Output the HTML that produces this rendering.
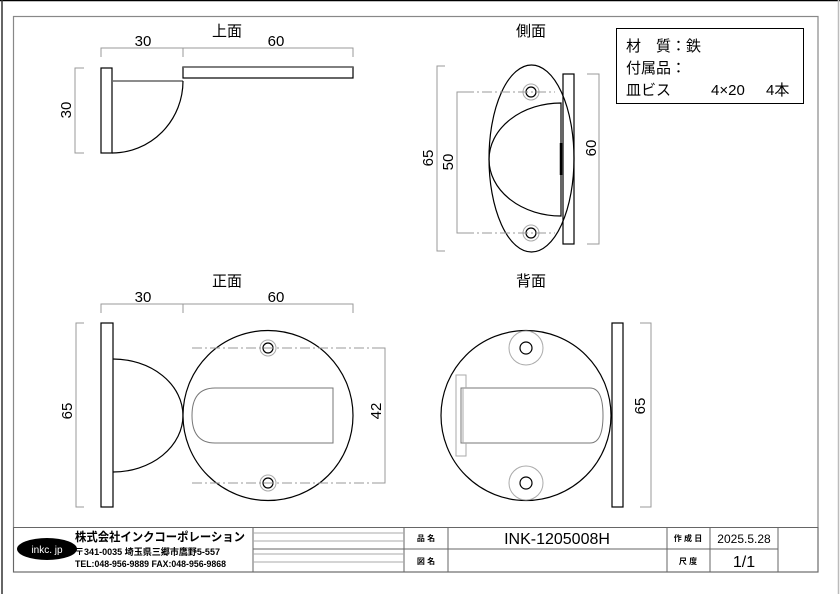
<!DOCTYPE html>
<html><head><meta charset="utf-8"><style>
html,body{margin:0;padding:0;background:#fff;}
svg{display:block;}
text{font-family:"Liberation Sans","Noto Sans CJK JP",sans-serif;}
</style></head><body>
<svg width="840" height="594" viewBox="0 0 840 594" xmlns="http://www.w3.org/2000/svg">
<line x1="0" y1="0.5" x2="840" y2="0.5" stroke="#000" stroke-width="1.5"/>
<line x1="2" y1="0" x2="2" y2="594" stroke="#333" stroke-width="1.5"/>
<line x1="838.5" y1="0" x2="838.5" y2="594" stroke="#bbb" stroke-width="1.5"/>
<rect x="13.5" y="16.5" width="804.5" height="555.5" fill="none" stroke="#888" stroke-width="1.2"/>

<g fill="none" stroke="#000" stroke-width="1.2">
<rect x="101" y="68" width="11" height="85"/>
<line x1="112" y1="81" x2="183" y2="81" stroke="#666" stroke-width="1.5"/>
<path d="M183,81 A71,72 0 0 1 112,153"/>
<rect x="183" y="67" width="170" height="11"/>
<line x1="183" y1="67" x2="353" y2="67" stroke="#666" stroke-width="1.5"/>
<ellipse cx="531.5" cy="158.5" rx="42.5" ry="93.5"/>
<rect x="563" y="74" width="11" height="170"/>
<path d="M561,103 A72,56.5 0 0 0 561,216 Z"/>
<line x1="561" y1="143" x2="561" y2="175" stroke-width="2.5"/>
<circle cx="531" cy="92" r="8" stroke="#aaa" stroke-width="1"/>
<circle cx="531" cy="92" r="5"/>
<circle cx="531" cy="233" r="8" stroke="#aaa" stroke-width="1"/>
<circle cx="531" cy="233" r="5"/>
<rect x="101" y="323" width="12" height="184"/>
<path d="M113,359 A70,56.5 0 0 1 113,472"/>
<circle cx="268" cy="415.5" r="85"/>
<path d="M333,388 L215,388 Q192,388 192,415.5 Q192,443 215,443 L333,443 Z" stroke="#777" stroke-width="1"/>
<circle cx="268" cy="348" r="8" stroke="#aaa" stroke-width="1"/>
<circle cx="268" cy="348" r="5"/>
<circle cx="268" cy="483" r="8" stroke="#aaa" stroke-width="1"/>
<circle cx="268" cy="483" r="5"/>
<circle cx="526" cy="415.5" r="85"/>
<rect x="612" y="323" width="11" height="184"/>
<circle cx="526" cy="348" r="17" stroke="#aaa" stroke-width="1"/>
<circle cx="526" cy="348" r="6"/>
<circle cx="526" cy="483" r="17" stroke="#aaa" stroke-width="1"/>
<circle cx="526" cy="483" r="6"/>
<path d="M461,388 L590,388 Q603,388 603,415.5 Q603,443 590,443 L461,443 Z" stroke="#777" stroke-width="1"/>
<path d="M466,388 L466,375 L456,375 L456,456 L466,456 L466,443" stroke="#aaa" stroke-width="1"/>
<line x1="463" y1="388" x2="463" y2="443" stroke="#aaa" stroke-width="1"/>
</g>

<g fill="none" stroke="#999" stroke-width="1">
<path d="M101,57 V48 H353 V57 M183,48 V57"/>
<path d="M84,68 H75 V153 H84"/>
<path d="M445,66 H437 V251 H445"/>
<path d="M464,92 H457 V233 H464"/>
<path d="M587,74 H599 V244 H587"/>
<path d="M101,313 V304 H353 V313 M183,304 V313"/>
<path d="M84,323 H76 V507 H84"/>
<path d="M375,348 H385 V483 H375"/>
<path d="M640,323 H651 V507 H640"/>
<path d="M464,92 H555 M464,233 H555 M192,348 H385 M192,483 H385" stroke-dasharray="10,3,2,3"/>
</g>

<g font-size="15" fill="#000" text-anchor="middle">
<text x="227" y="36" font-size="15">上面</text>
<text x="143" y="46">30</text>
<text x="276" y="46">60</text>
<text transform="translate(71,110) rotate(-90)">30</text>
<text x="531" y="36" font-size="15">側面</text>
<text transform="translate(433,158) rotate(-90)">65</text>
<text transform="translate(453,162) rotate(-90)">50</text>
<text transform="translate(596,148) rotate(-90)">60</text>
<text x="227" y="286" font-size="15">正面</text>
<text x="143" y="302">30</text>
<text x="276" y="302">60</text>
<text transform="translate(72,411) rotate(-90)">65</text>
<text transform="translate(381,411) rotate(-90)">42</text>
<text x="531" y="286" font-size="15">背面</text>
<text transform="translate(645,406) rotate(-90)">65</text>
</g>

<rect x="616.5" y="28.5" width="187" height="75" fill="none" stroke="#000" stroke-width="1"/>
<g font-size="15" fill="#000">
<text x="626" y="51">材　質：鉄</text>
<text x="626" y="73">付属品：</text>
<text x="626" y="95">皿ビス</text>
<text x="711" y="95">4×20</text>
<text x="766" y="95">4本</text>
</g>

<g fill="none" stroke="#666" stroke-width="1">
<rect x="13.5" y="527.5" width="804.5" height="44.5"/>
<line x1="253" y1="527" x2="253" y2="572"/>
<line x1="404" y1="527" x2="404" y2="572"/>
<line x1="448" y1="527" x2="448" y2="572"/>
<line x1="667" y1="527" x2="667" y2="572"/>
<line x1="710" y1="527" x2="710" y2="572"/>
<line x1="778" y1="527" x2="778" y2="572"/>
<line x1="253" y1="533" x2="404" y2="533" stroke="#aaa"/>
<line x1="253" y1="541" x2="404" y2="541" stroke="#aaa"/>
<line x1="253" y1="549" x2="778" y2="549"/>
<line x1="253" y1="554" x2="404" y2="554" stroke="#aaa"/>
<line x1="253" y1="562" x2="404" y2="562" stroke="#aaa"/>
</g>
<ellipse cx="47" cy="549" rx="30" ry="11" fill="#000"/>
<text x="47" y="553" font-size="10" fill="#fff" text-anchor="middle">inkc. jp</text>
<text x="75" y="541" font-size="12" font-weight="bold" fill="#000" textLength="170" lengthAdjust="spacingAndGlyphs">株式会社インクコーポレーション</text>
<text x="75" y="555" font-size="9" font-weight="bold" fill="#000" textLength="145" lengthAdjust="spacingAndGlyphs">〒341-0035 埼玉県三郷市鷹野5-557</text>
<text x="75" y="567" font-size="9" font-weight="bold" fill="#000" textLength="151" lengthAdjust="spacingAndGlyphs">TEL:048-956-9889  FAX:048-956-9868</text>
<g font-size="8" font-weight="bold" fill="#000" text-anchor="middle">
<text x="426" y="541">品 名</text>
<text x="426" y="564">図 名</text>
<text x="688" y="541">作 成 日</text>
<text x="688" y="564">尺 度</text>
</g>
<text x="557" y="544" font-size="16" fill="#000" text-anchor="middle">INK-1205008H</text>
<text x="744" y="543" font-size="12" fill="#000" text-anchor="middle">2025.5.28</text>
<text x="744" y="567" font-size="16" fill="#000" text-anchor="middle">1/1</text>
</svg>
</body></html>
